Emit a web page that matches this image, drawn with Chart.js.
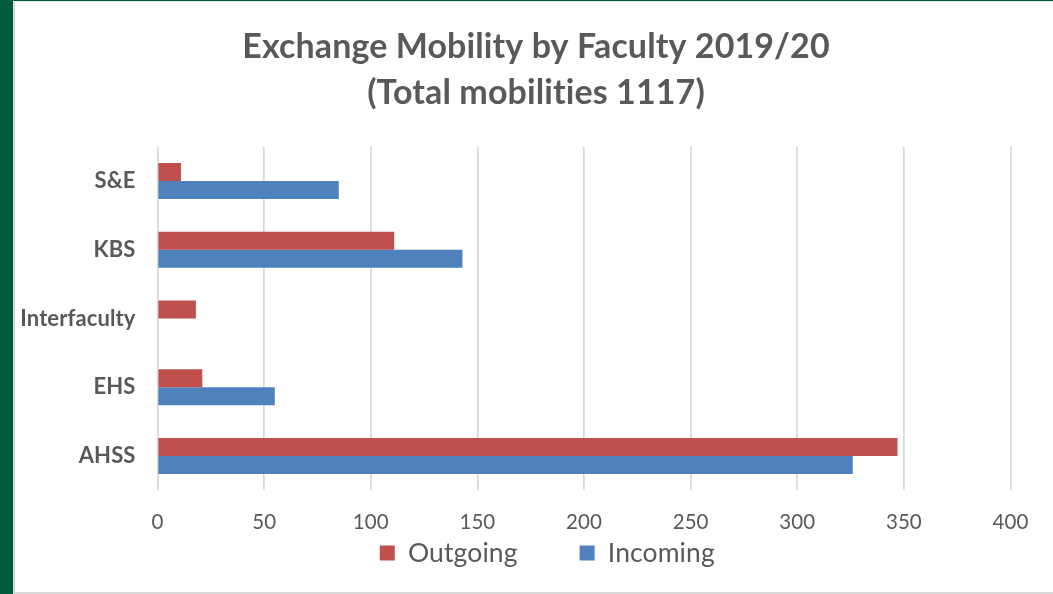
<!DOCTYPE html>
<html>
<head>
<meta charset="utf-8">
<script src="https://cdn.jsdelivr.net/npm/chart.js@4.4.1/dist/chart.umd.min.js"></script>
<style>
  html, body { margin: 0; padding: 0; background: #ffffff; }
  #frame { position: absolute; left: 0; top: 0; width: 1053px; height: 594px; background: #ffffff; overflow: hidden; }
  #greenLeft { position: absolute; left: 0; top: 0; width: 13px; height: 594px; background: #005C3C; }
  #greenTop { position: absolute; left: 0; top: 0; width: 1053px; height: 1px; background: #00603F; }
  #grayLeft { position: absolute; left: 13px; top: 1px; width: 2px; height: 593px; background: #D9D9D9; }
  #grayTop { position: absolute; left: 13px; top: 1px; width: 1040px; height: 1px; background: #E6E6E6; }
  #grayBottom { position: absolute; left: 13px; top: 592px; width: 1040px; height: 2px; background: #D9D9D9; }
  #wrap { position: absolute; left: 15px; top: 2px; width: 1038px; height: 590px; }
</style>
</head>
<body>
<div id="frame">
  <div id="greenLeft"></div>
  <div id="greenTop"></div>
  <div id="grayLeft"></div>
  <div id="grayTop"></div>
  <div id="grayBottom"></div>
  <div id="wrap"><canvas id="c" width="1038" height="590"></canvas></div>
</div>
<script>
const categories = ['S&E', 'KBS', 'Interfaculty', 'EHS', 'AHSS'];
const outgoing = [11, 111, 18, 21, 347];
const incoming = [85, 143, 0, 55, 326];
const seriesNames = ['Outgoing', 'Incoming'];
const titleLines = ['Exchange Mobility by Faculty 2019/20', '(Total mobilities 1117)'];
const xTickMin = 0, xTickMax = 400, xTickStep = 50;

const TEXT = '#595959';
const FONT = 'Lato, "Open Sans", sans-serif';
const LEGEND_FONT = 26.5;
const LEGEND_PAD = 62;

// place title and legend boxes where the reference has them
const boxPlace = {
  id: 'boxPlace',
  afterLayout(chart) {
    const tb = chart.titleBlock;
    if (tb) { tb.left = 46.5; tb.right = 995.5; }
    const lg = chart.legend;
    if (lg) {
      lg.top = 551 - LEGEND_FONT / 2 - LEGEND_PAD;
      lg.bottom = 590;
      lg.left = 58;
      lg.right = 1005;
      lg.height = lg.bottom - lg.top;
      lg.width = lg.right - lg.left;
    }
  },
  beforeDraw(chart) {
    // tiny letter spacing turns off the "ti" ligature so text reads like the reference
    if ('letterSpacing' in chart.ctx) chart.ctx.letterSpacing = '0.1px';
  }
};

new Chart(document.getElementById('c'), {
  type: 'bar',
  data: {
    labels: categories,
    datasets: [
      { label: seriesNames[0], data: outgoing, backgroundColor: '#C0504D', borderWidth: 0 },
      { label: seriesNames[1], data: incoming, backgroundColor: '#4F81BD', borderWidth: 0 }
    ]
  },
  options: {
    indexAxis: 'y',
    responsive: false,
    animation: false,
    devicePixelRatio: 1,
    layout: { padding: { left: 0, right: 42.5, top: 0, bottom: 0 } },
    datasets: { bar: { barPercentage: 1, categoryPercentage: 0.524 } },
    scales: {
      x: {
        min: xTickMin, max: xTickMax,
        ticks: { stepSize: xTickStep, color: TEXT, padding: 20, font: { family: FONT, size: 20.5 } },
        grid: { color: '#D9D9D9', lineWidth: 1.7, drawTicks: false },
        border: { display: false },
        afterFit(scale) { scale.height = 56.6; }
      },
      y: {
        ticks: { color: TEXT, padding: 22, font: { family: FONT, size: 22, weight: 'bold' } },
        grid: { display: false, drawTicks: false },
        border: { display: false },
        afterFit(scale) { scale.width = 142.5; }
      }
    },
    plugins: {
      title: {
        display: true,
        text: titleLines,
        color: TEXT,
        font: { family: FONT, size: 34, weight: 'bold', lineHeight: '46px' },
        padding: { top: 22, bottom: 30.6 }
      },
      legend: {
        position: 'bottom',
        maxHeight: 45,
        labels: {
          color: TEXT,
          boxWidth: 15, boxHeight: 15,
          padding: LEGEND_PAD,
          font: { family: FONT, size: LEGEND_FONT }
        }
      },
      tooltip: { enabled: false }
    }
  },
  plugins: [boxPlace]
});
</script>
</body>
</html>
